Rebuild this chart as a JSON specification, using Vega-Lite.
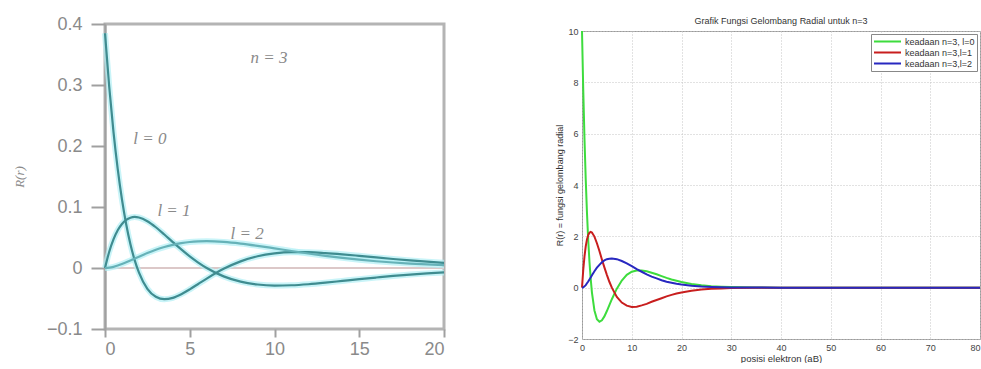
{
"$schema": "https://vega.github.io/schema/vega-lite/v6.json",
"padding": {"left": 11, "top": 13, "right": 0, "bottom": 0},
"background": "white",
"spacing": 97,
"config": {"font": "Liberation Sans", "view": {"stroke": null}},
"datasets": {
"left": [
{"r":0,"l":"l=0","R":0.3849},{"r":0,"l":"l=1","R":0},{"r":0,"l":"l=2","R":0},
{"r":0.25,"l":"l=0","R":0.2967},{"r":0.25,"l":"l=1","R":0.0267},{"r":0.25,"l":"l=2","R":0.0005},
{"r":0.5,"l":"l=0","R":0.2232},{"r":0.5,"l":"l=1","R":0.0469},{"r":0.5,"l":"l=2","R":0.0019},
{"r":0.75,"l":"l=0","R":0.1624},{"r":0.75,"l":"l=1","R":0.0618},{"r":0.75,"l":"l=2","R":0.0040},
{"r":1,"l":"l=0","R":0.1124},{"r":1,"l":"l=1","R":0.0722},{"r":1,"l":"l=2","R":0.0065},
{"r":1.25,"l":"l=0","R":0.0717},{"r":1.25,"l":"l=1","R":0.0789},{"r":1.25,"l":"l=2","R":0.0093},
{"r":1.5,"l":"l=0","R":0.0389},{"r":1.5,"l":"l=1","R":0.0825},{"r":1.5,"l":"l=2","R":0.0123},
{"r":1.75,"l":"l=0","R":0.0129},{"r":1.75,"l":"l=1","R":0.0837},{"r":1.75,"l":"l=2","R":0.0154},
{"r":2,"l":"l=0","R":-0.0073},{"r":2,"l":"l=1","R":0.0828},{"r":2,"l":"l=2","R":0.0185},
{"r":2.5,"l":"l=0","R":-0.0341},{"r":2.5,"l":"l=1","R":0.0767},{"r":2.5,"l":"l=2","R":0.0245},
{"r":3,"l":"l=0","R":-0.0472},{"r":3,"l":"l=1","R":0.0668},{"r":3,"l":"l=2","R":0.0299},
{"r":3.5,"l":"l=0","R":-0.0511},{"r":3.5,"l":"l=1","R":0.0549},{"r":3.5,"l":"l=2","R":0.0344},
{"r":4,"l":"l=0","R":-0.0489},{"r":4,"l":"l=1","R":0.0425},{"r":4,"l":"l=2","R":0.0380},
{"r":4.5,"l":"l=0","R":-0.0429},{"r":4.5,"l":"l=1","R":0.0304},{"r":4.5,"l":"l=2","R":0.0407},
{"r":5,"l":"l=0","R":-0.0350},{"r":5,"l":"l=1","R":0.0190},{"r":5,"l":"l=2","R":0.0426},
{"r":5.5,"l":"l=0","R":-0.0262},{"r":5.5,"l":"l=1","R":0.0089},{"r":5.5,"l":"l=2","R":0.0436},
{"r":6,"l":"l=0","R":-0.0174},{"r":6,"l":"l=1","R":0},{"r":6,"l":"l=2","R":0.0439},
{"r":7,"l":"l=0","R":-0.0014},{"r":7,"l":"l=1","R":-0.0137},{"r":7,"l":"l=2","R":0.0428},
{"r":8,"l":"l=0","R":0.0109},{"r":8,"l":"l=1","R":-0.0224},{"r":8,"l":"l=2","R":0.0401},
{"r":9,"l":"l=0","R":0.0192},{"r":9,"l":"l=1","R":-0.0271},{"r":9,"l":"l=2","R":0.0364},
{"r":10,"l":"l=0","R":0.0239},{"r":10,"l":"l=1","R":-0.0288},{"r":10,"l":"l=2","R":0.0322},
{"r":11,"l":"l=0","R":0.0259},{"r":11,"l":"l=1","R":-0.0283},{"r":11,"l":"l=2","R":0.0279},
{"r":12,"l":"l=0","R":0.0259},{"r":12,"l":"l=1","R":-0.0266},{"r":12,"l":"l=2","R":0.0238},
{"r":13,"l":"l=0","R":0.0245},{"r":13,"l":"l=1","R":-0.0241},{"r":13,"l":"l=2","R":0.0200},
{"r":14,"l":"l=0","R":0.0224},{"r":14,"l":"l=1","R":-0.0212},{"r":14,"l":"l=2","R":0.0166},
{"r":15,"l":"l=0","R":0.0199},{"r":15,"l":"l=1","R":-0.0183},{"r":15,"l":"l=2","R":0.0137},
{"r":16,"l":"l=0","R":0.0173},{"r":16,"l":"l=1","R":-0.0156},{"r":16,"l":"l=2","R":0.0111},
{"r":17,"l":"l=0","R":0.0148},{"r":17,"l":"l=1","R":-0.0130},{"r":17,"l":"l=2","R":0.0090},
{"r":18,"l":"l=0","R":0.0124},{"r":18,"l":"l=1","R":-0.0108},{"r":18,"l":"l=2","R":0.0072},
{"r":19,"l":"l=0","R":0.0103},{"r":19,"l":"l=1","R":-0.0088},{"r":19,"l":"l=2","R":0.0058},
{"r":20,"l":"l=0","R":0.0085},{"r":20,"l":"l=1","R":-0.0072},{"r":20,"l":"l=2","R":0.0046}
],
"labels": [
{"r":2.65,"R":0.211,"t":"l = 0"},
{"r":4.07,"R":0.093,"t":"l = 1"},
{"r":8.38,"R":0.056,"t":"l = 2"},
{"r":9.68,"R":0.344,"t":"n = 3"}
],
"titles": [
{"r":40,"v":10.4,"t":"Grafik Fungsi Gelombang Radial untuk n=3"}
],
"right": [
{"r":0,"s":"keadaan n=3, l=0","v":10.0},{"r":0,"s":"keadaan n=3,l=1","v":0},{"r":0,"s":"keadaan n=3,l=2","v":0},
{"r":0.25,"s":"keadaan n=3, l=0","v":7.71},{"r":0.25,"s":"keadaan n=3,l=1","v":0.69},{"r":0.25,"s":"keadaan n=3,l=2","v":0.01},
{"r":0.5,"s":"keadaan n=3, l=0","v":5.80},{"r":0.5,"s":"keadaan n=3,l=1","v":1.22},{"r":0.5,"s":"keadaan n=3,l=2","v":0.05},
{"r":0.75,"s":"keadaan n=3, l=0","v":4.22},{"r":0.75,"s":"keadaan n=3,l=1","v":1.61},{"r":0.75,"s":"keadaan n=3,l=2","v":0.10},
{"r":1,"s":"keadaan n=3, l=0","v":2.92},{"r":1,"s":"keadaan n=3,l=1","v":1.88},{"r":1,"s":"keadaan n=3,l=2","v":0.17},
{"r":1.25,"s":"keadaan n=3, l=0","v":1.86},{"r":1.25,"s":"keadaan n=3,l=1","v":2.05},{"r":1.25,"s":"keadaan n=3,l=2","v":0.24},
{"r":1.5,"s":"keadaan n=3, l=0","v":1.01},{"r":1.5,"s":"keadaan n=3,l=1","v":2.14},{"r":1.5,"s":"keadaan n=3,l=2","v":0.32},
{"r":1.75,"s":"keadaan n=3, l=0","v":0.34},{"r":1.75,"s":"keadaan n=3,l=1","v":2.17},{"r":1.75,"s":"keadaan n=3,l=2","v":0.40},
{"r":2,"s":"keadaan n=3, l=0","v":-0.19},{"r":2,"s":"keadaan n=3,l=1","v":2.15},{"r":2,"s":"keadaan n=3,l=2","v":0.48},
{"r":2.5,"s":"keadaan n=3, l=0","v":-0.89},{"r":2.5,"s":"keadaan n=3,l=1","v":1.99},{"r":2.5,"s":"keadaan n=3,l=2","v":0.64},
{"r":3,"s":"keadaan n=3, l=0","v":-1.23},{"r":3,"s":"keadaan n=3,l=1","v":1.73},{"r":3,"s":"keadaan n=3,l=2","v":0.78},
{"r":3.5,"s":"keadaan n=3, l=0","v":-1.33},{"r":3.5,"s":"keadaan n=3,l=1","v":1.43},{"r":3.5,"s":"keadaan n=3,l=2","v":0.89},
{"r":4,"s":"keadaan n=3, l=0","v":-1.27},{"r":4,"s":"keadaan n=3,l=1","v":1.10},{"r":4,"s":"keadaan n=3,l=2","v":0.99},
{"r":4.5,"s":"keadaan n=3, l=0","v":-1.12},{"r":4.5,"s":"keadaan n=3,l=1","v":0.79},{"r":4.5,"s":"keadaan n=3,l=2","v":1.06},
{"r":5,"s":"keadaan n=3, l=0","v":-0.91},{"r":5,"s":"keadaan n=3,l=1","v":0.50},{"r":5,"s":"keadaan n=3,l=2","v":1.11},
{"r":5.5,"s":"keadaan n=3, l=0","v":-0.68},{"r":5.5,"s":"keadaan n=3,l=1","v":0.23},{"r":5.5,"s":"keadaan n=3,l=2","v":1.13},
{"r":6,"s":"keadaan n=3, l=0","v":-0.45},{"r":6,"s":"keadaan n=3,l=1","v":0},{"r":6,"s":"keadaan n=3,l=2","v":1.14},
{"r":7,"s":"keadaan n=3, l=0","v":-0.04},{"r":7,"s":"keadaan n=3,l=1","v":-0.36},{"r":7,"s":"keadaan n=3,l=2","v":1.11},
{"r":8,"s":"keadaan n=3, l=0","v":0.28},{"r":8,"s":"keadaan n=3,l=1","v":-0.58},{"r":8,"s":"keadaan n=3,l=2","v":1.04},
{"r":9,"s":"keadaan n=3, l=0","v":0.50},{"r":9,"s":"keadaan n=3,l=1","v":-0.70},{"r":9,"s":"keadaan n=3,l=2","v":0.95},
{"r":10,"s":"keadaan n=3, l=0","v":0.62},{"r":10,"s":"keadaan n=3,l=1","v":-0.75},{"r":10,"s":"keadaan n=3,l=2","v":0.84},
{"r":11,"s":"keadaan n=3, l=0","v":0.67},{"r":11,"s":"keadaan n=3,l=1","v":-0.74},{"r":11,"s":"keadaan n=3,l=2","v":0.72},
{"r":12,"s":"keadaan n=3, l=0","v":0.67},{"r":12,"s":"keadaan n=3,l=1","v":-0.69},{"r":12,"s":"keadaan n=3,l=2","v":0.62},
{"r":13,"s":"keadaan n=3, l=0","v":0.64},{"r":13,"s":"keadaan n=3,l=1","v":-0.63},{"r":13,"s":"keadaan n=3,l=2","v":0.52},
{"r":14,"s":"keadaan n=3, l=0","v":0.58},{"r":14,"s":"keadaan n=3,l=1","v":-0.55},{"r":14,"s":"keadaan n=3,l=2","v":0.43},
{"r":15,"s":"keadaan n=3, l=0","v":0.52},{"r":15,"s":"keadaan n=3,l=1","v":-0.48},{"r":15,"s":"keadaan n=3,l=2","v":0.36},
{"r":16,"s":"keadaan n=3, l=0","v":0.45},{"r":16,"s":"keadaan n=3,l=1","v":-0.41},{"r":16,"s":"keadaan n=3,l=2","v":0.29},
{"r":17,"s":"keadaan n=3, l=0","v":0.38},{"r":17,"s":"keadaan n=3,l=1","v":-0.34},{"r":17,"s":"keadaan n=3,l=2","v":0.23},
{"r":18,"s":"keadaan n=3, l=0","v":0.32},{"r":18,"s":"keadaan n=3,l=1","v":-0.28},{"r":18,"s":"keadaan n=3,l=2","v":0.19},
{"r":19,"s":"keadaan n=3, l=0","v":0.27},{"r":19,"s":"keadaan n=3,l=1","v":-0.23},{"r":19,"s":"keadaan n=3,l=2","v":0.15},
{"r":20,"s":"keadaan n=3, l=0","v":0.22},{"r":20,"s":"keadaan n=3,l=1","v":-0.19},{"r":20,"s":"keadaan n=3,l=2","v":0.12},
{"r":22,"s":"keadaan n=3, l=0","v":0.145},{"r":22,"s":"keadaan n=3,l=1","v":-0.12},{"r":22,"s":"keadaan n=3,l=2","v":0.074},
{"r":24,"s":"keadaan n=3, l=0","v":0.093},{"r":24,"s":"keadaan n=3,l=1","v":-0.076},{"r":24,"s":"keadaan n=3,l=2","v":0.045},
{"r":26,"s":"keadaan n=3, l=0","v":0.058},{"r":26,"s":"keadaan n=3,l=1","v":-0.047},{"r":26,"s":"keadaan n=3,l=2","v":0.027},
{"r":28,"s":"keadaan n=3, l=0","v":0.036},{"r":28,"s":"keadaan n=3,l=1","v":-0.029},{"r":28,"s":"keadaan n=3,l=2","v":0.016},
{"r":30,"s":"keadaan n=3, l=0","v":0.022},{"r":30,"s":"keadaan n=3,l=1","v":-0.017},{"r":30,"s":"keadaan n=3,l=2","v":0.010},
{"r":35,"s":"keadaan n=3, l=0","v":0.006},{"r":35,"s":"keadaan n=3,l=1","v":-0.005},{"r":35,"s":"keadaan n=3,l=2","v":0.003},
{"r":40,"s":"keadaan n=3, l=0","v":0.001},{"r":40,"s":"keadaan n=3,l=1","v":-0.001},{"r":40,"s":"keadaan n=3,l=2","v":0.001},
{"r":50,"s":"keadaan n=3, l=0","v":0},{"r":50,"s":"keadaan n=3,l=1","v":0},{"r":50,"s":"keadaan n=3,l=2","v":0},
{"r":60,"s":"keadaan n=3, l=0","v":0},{"r":60,"s":"keadaan n=3,l=1","v":0},{"r":60,"s":"keadaan n=3,l=2","v":0},
{"r":70,"s":"keadaan n=3, l=0","v":0},{"r":70,"s":"keadaan n=3,l=1","v":0},{"r":70,"s":"keadaan n=3,l=2","v":0},
{"r":80,"s":"keadaan n=3, l=0","v":0},{"r":80,"s":"keadaan n=3,l=1","v":0},{"r":80,"s":"keadaan n=3,l=2","v":0}
]
},
"hconcat": [
{
"width": 339, "height": 305,
"view": {"stroke": "#b4b4b4", "strokeWidth": 3},
"layer": [
{
"data": {"values": [{"R": 0}]},
"mark": {"type": "rule", "color": "#dcc8c8", "strokeWidth": 2},
"encoding": {"y": {"field": "R", "type": "quantitative"}}
},
{
"data": {"name": "left"},
"mark": {"type": "line", "interpolate": "monotone", "strokeWidth": 6, "color": "#b2eff5", "opacity": 0.7},
"encoding": {
"x": {"field": "r", "type": "quantitative"},
"y": {"field": "R", "type": "quantitative"},
"detail": {"field": "l", "type": "nominal"}
}
},
{
"data": {"name": "left"},
"mark": {"type": "line", "interpolate": "monotone", "strokeWidth": 2.2},
"encoding": {
"x": {"field": "r", "type": "quantitative", "scale": {"domain": [0, 20], "nice": false},
 "axis": {"values": [0, 5, 10, 15, 20], "title": null, "grid": false, "domain": false, "tickSize": 8, "tickWidth": 2, "tickColor": "#a0a0a0", "labelFontSize": 18, "labelColor": "#8a8a8a", "labelPadding": 3}},
"y": {"field": "R", "type": "quantitative", "scale": {"domain": [-0.1, 0.4], "nice": false},
 "axis": {"values": [-0.1, 0, 0.1, 0.2, 0.3, 0.4], "labelExpr": "datum.value == 0 ? '0' : format(datum.value, '.1f')", "title": "R(r)", "titleFont": "Liberation Serif", "titleFontStyle": "italic", "titleFontWeight": "normal", "titleFontSize": 13, "titleColor": "#8a8a8a", "titlePadding": 20, "grid": false, "domainColor": "#a0a0a0", "domainWidth": 2, "tickSize": 14, "tickWidth": 2, "tickColor": "#a0a0a0", "labelFontSize": 18, "labelColor": "#8a8a8a", "labelPadding": 9}},
"color": {"field": "l", "type": "nominal", "scale": {"domain": ["l=0", "l=1", "l=2"], "range": ["#3f8c90", "#3f8c90", "#66b2b8"]}, "legend": null}
}
},
{
"data": {"name": "labels"},
"mark": {"type": "text", "font": "Liberation Serif", "fontStyle": "italic", "fontSize": 17, "color": "#8a8a8a"},
"encoding": {
"x": {"field": "r", "type": "quantitative"},
"y": {"field": "R", "type": "quantitative"},
"text": {"field": "t"}
}
}
]
},
{
"spacing": 6,
"bounds": "flush",
"resolve": {"scale": {"color": "independent"}, "legend": {"color": "independent"}},
"vconcat": [
{
"width": 398, "height": 1,
"data": {"values": []},
"mark": {"type": "point"}
},
{
"width": 398, "height": 308,
"view": {"stroke": "#9a9a9a", "strokeWidth": 1},
"layer": [
{
"data": {"name": "right"},
"mark": {"type": "line", "strokeWidth": 2},
"encoding": {
"x": {"field": "r", "type": "quantitative", "scale": {"domain": [0, 80], "nice": false},
 "axis": {"values": [0, 10, 20, 30, 40, 50, 60, 70, 80], "title": "posisi elektron (aB)", "titleFontSize": 9.5, "titleFontWeight": "normal", "titleColor": "#333", "titlePadding": 1, "grid": true, "gridColor": "#c4c4c4", "gridDash": [1, 2], "domain": false, "ticks": false, "labelPadding": 4, "labelFontSize": 9, "labelColor": "#444", "labelAlign": {"expr": "datum.value == 80 ? 'right' : 'center'"}}},
"y": {"field": "v", "type": "quantitative", "scale": {"domain": [-2, 10], "nice": false},
 "axis": {"values": [-2, 0, 2, 4, 6, 8, 10], "title": "R(r) = fungsi gelombang radial", "titleFontSize": 9, "titleFontWeight": "normal", "titleColor": "#333", "titlePadding": 3, "grid": true, "gridColor": "#c4c4c4", "gridDash": [1, 2], "domain": false, "ticks": false, "labelPadding": 4, "labelFontSize": 9, "labelColor": "#444"}},
"color": {"field": "s", "type": "nominal", "scale": {"domain": ["keadaan n=3, l=0", "keadaan n=3,l=1", "keadaan n=3,l=2"], "range": ["#3ddc3d", "#c81e1e", "#2828c0"]},
 "legend": {"title": null, "orient": "top-right", "offset": 3, "strokeColor": "#888", "fillColor": "white", "padding": 2, "symbolType": "stroke", "symbolSize": 729, "symbolStrokeWidth": 2, "clipHeight": 11, "rowPadding": 0, "labelFontSize": 9, "labelColor": "#333", "labelOffset": 3}}
}
},
{
"data": {"name": "titles"},
"mark": {"type": "text", "fontSize": 9, "color": "#333"},
"encoding": {
"x": {"field": "r", "type": "quantitative"},
"y": {"field": "v", "type": "quantitative"},
"text": {"field": "t"}
}
}
]
}
]
}
],
"resolve": {"scale": {"color": "independent"}, "legend": {"color": "independent"}}
}
